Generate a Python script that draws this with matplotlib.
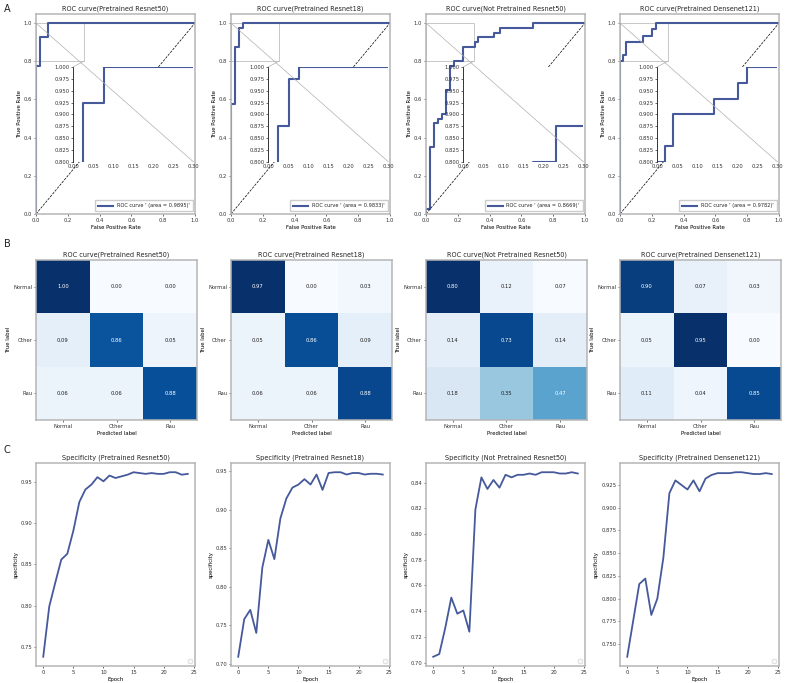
import numpy as np
import matplotlib.pyplot as plt
from matplotlib.patches import ConnectionPatch, Rectangle

plt.rcParams.update({
    "font.family": "DejaVu Sans",
    "font.size": 3.8,
    "axes.titlesize": 4.7,
    "axes.labelsize": 3.9,
    "xtick.labelsize": 3.8,
    "ytick.labelsize": 3.8,
    "xtick.major.size": 1.5,
    "ytick.major.size": 1.5,
    "xtick.major.width": 0.5,
    "ytick.major.width": 0.5,
    "xtick.major.pad": 1.2,
    "ytick.major.pad": 1.2,
    "axes.labelpad": 1.5,
    "axes.titlepad": 2.5,
    "text.color": "#222222",
    "xtick.color": "#333333",
    "ytick.color": "#333333",
})

BLUE = "#45599b"
SPINE = "#b5b5b5"

# ---- A: ROC curves
roc_titles = ["ROC curve(Pretrained Resnet50)", "ROC curve(Pretrained Resnet18)",
              "ROC curve(Not Pretrained Resnet50)", "ROC curve(Pretrained Densenet121)"]
roc_auc = [0.9895, 0.9833, 0.8669, 0.9782]

fpr_resnet50 = [0, 0, 0.025, 0.025, 0.077, 0.077, 1.0]
tpr_resnet50 = [0, 0.775, 0.775, 0.925, 0.925, 1.0, 1.0]

fpr_resnet18 = [0, 0, 0.025, 0.025, 0.051, 0.051, 0.077, 0.077, 1.0]
tpr_resnet18 = [0, 0.575, 0.575, 0.875, 0.875, 0.975, 0.975, 1.0, 1.0]

fpr_np_resnet50 = [0, 0, 0.025, 0.025, 0.05, 0.05, 0.075, 0.075, 0.1, 0.1, 0.125, 0.125,
                   0.15, 0.15, 0.175, 0.175, 0.232, 0.232, 0.31, 0.31, 0.33, 0.33,
                   0.43, 0.43, 0.465, 0.465, 0.675, 0.675, 1.0]
tpr_np_resnet50 = [0, 0.025, 0.025, 0.35, 0.35, 0.475, 0.475, 0.5, 0.5, 0.525, 0.525, 0.65,
                   0.65, 0.775, 0.775, 0.8, 0.8, 0.875, 0.875, 0.9, 0.9, 0.925,
                   0.925, 0.95, 0.95, 0.975, 0.975, 1.0, 1.0]

fpr_densenet121 = [0, 0, 0.019, 0.019, 0.04, 0.04, 0.1425, 0.1425, 0.203, 0.203, 0.224, 0.224, 1.0]
tpr_densenet121 = [0, 0.8, 0.8, 0.833, 0.833, 0.9, 0.9, 0.933, 0.933, 0.967, 0.967, 1.0, 1.0]

roc_fpr = [fpr_resnet50, fpr_resnet18, fpr_np_resnet50, fpr_densenet121]
roc_tpr = [tpr_resnet50, tpr_resnet18, tpr_np_resnet50, tpr_densenet121]

# ---- B: confusion matrices
classes = ["Normal", "Other", "Rau"]
cm_resnet50 = [[1.00, 0.00, 0.00], [0.09, 0.86, 0.05], [0.06, 0.06, 0.88]]
cm_resnet18 = [[0.97, 0.00, 0.03], [0.05, 0.86, 0.09], [0.06, 0.06, 0.88]]
cm_np_resnet50 = [[0.80, 0.12, 0.07], [0.14, 0.73, 0.14], [0.18, 0.35, 0.47]]
cm_densenet121 = [[0.90, 0.07, 0.03], [0.05, 0.95, 0.00], [0.11, 0.04, 0.85]]
cms = [cm_resnet50, cm_resnet18, cm_np_resnet50, cm_densenet121]

# ---- C: specificity per epoch
spec_titles = ["Specificity (Pretrained Resnet50)", "Specificity (Pretrained Resnet18)",
               "Specificity (Not Pretrained Resnet50)", "Specificity (Pretrained Densenet121)"]
epochs = list(range(25))
spec_resnet50 = [0.738, 0.799, 0.828, 0.856, 0.863, 0.891, 0.926, 0.941, 0.947, 0.956,
                 0.951, 0.958, 0.955, 0.957, 0.959, 0.962, 0.961, 0.960, 0.961, 0.960,
                 0.960, 0.962, 0.962, 0.959, 0.960]
spec_resnet18 = [0.709, 0.758, 0.770, 0.740, 0.825, 0.861, 0.836, 0.889, 0.915, 0.929,
                 0.933, 0.940, 0.933, 0.946, 0.926, 0.948, 0.949, 0.949, 0.946, 0.948,
                 0.948, 0.946, 0.947, 0.947, 0.946]
spec_np_resnet50 = [0.7045, 0.7066, 0.727, 0.7505, 0.738, 0.7405, 0.724, 0.819, 0.844, 0.835,
                    0.842, 0.836, 0.846, 0.844, 0.846, 0.846, 0.847, 0.846, 0.848, 0.848,
                    0.848, 0.847, 0.847, 0.848, 0.847]
spec_densenet121 = [0.736, 0.776, 0.816, 0.822, 0.782, 0.800, 0.845, 0.916, 0.930, 0.925,
                    0.920, 0.930, 0.918, 0.932, 0.936, 0.938, 0.938, 0.938, 0.939, 0.939,
                    0.938, 0.937, 0.937, 0.938, 0.937]
specs = [spec_resnet50, spec_resnet18, spec_np_resnet50, spec_densenet121]


def style_spines(ax):
    for s in ax.spines.values():
        s.set_color(SPINE)
        s.set_linewidth(1.1)


fig = plt.figure(figsize=(7.89, 6.83), dpi=100)
W, H = 789.0, 683.0
lefts = [36, 231, 426, 620]

# row A
for i in range(4):
    ax = fig.add_axes([lefts[i] / W, (H - 214) / H, 159 / W, 200.5 / H])
    fpr, tpr = roc_fpr[i], roc_tpr[i]
    ax.plot(fpr, tpr, color=BLUE, lw=1.5,
            label=f"ROC curve ' (area = {roc_auc[i]:.4f})'")
    ax.plot([0, 1], [0, 1], "k--", lw=0.5)
    ax.set_xlim(0, 1)
    ax.set_ylim(0, 1.05)
    ax.set_title(roc_titles[i])
    ax.set_xlabel("False Positive Rate")
    ax.set_ylabel("True Positive Rate")
    style_spines(ax)
    ax.add_patch(Rectangle((0, 0.8), 0.3, 0.2, fill=False, ec="#c8c8c8", lw=0.7))
    ax.legend(loc="lower right", fontsize=3.6, framealpha=1, edgecolor="#cccccc",
              fancybox=False, borderpad=0.6, handlelength=3)

    axins = ax.inset_axes([0.233, 0.26, 0.757, 0.473])
    axins.plot(fpr, tpr, color=BLUE, lw=1.5)
    axins.set_xlim(0, 0.3)
    axins.set_ylim(0.8, 1.0)
    axins.set_xticks(np.arange(0, 0.31, 0.05))
    axins.set_yticks(np.arange(0.8, 1.001, 0.025))
    axins.xaxis.set_major_formatter("{x:.2f}")
    axins.yaxis.set_major_formatter("{x:.3f}")
    for s in ["top", "right", "bottom"]:
        axins.spines[s].set_visible(False)
    axins.spines["left"].set_color("#333333")
    axins.spines["left"].set_linewidth(0.7)
    axins.tick_params(axis="x", length=0)

    for pa, pb in [((0, 1.0), (0.3, 0.8)), ((0.3, 0.8), (0, 1.0))]:
        con = ConnectionPatch(xyA=pa, coordsA=ax.transData, xyB=pb, coordsB=axins.transData,
                              color="#b0b0b0", lw=0.5, zorder=10)
        fig.add_artist(con)

# row B
for i in range(4):
    ax = fig.add_axes([lefts[i] / W, (H - 420) / H, 161 / W, 160 / H])
    cm = np.array(cms[i])
    ax.imshow(cm, cmap="Blues", aspect="auto", interpolation="nearest")
    thresh = cm.max() / 2.0
    for r in range(3):
        for c in range(3):
            ax.text(c, r, f"{cm[r, c]:.2f}", ha="center", va="center", fontsize=3.8,
                    color="white" if cm[r, c] > thresh else "#222222")
    ax.set_xticks(range(3), classes)
    ax.set_yticks(range(3), classes)
    ax.set_title(roc_titles[i])
    ax.set_xlabel("Predicted label")
    ax.set_ylabel("True label")
    style_spines(ax)

# row C
for i in range(4):
    ax = fig.add_axes([lefts[i] / W, (H - 666) / H, 159 / W, 203 / H])
    ax.plot(epochs, specs[i], color=BLUE, lw=1.3)
    ax.set_title(spec_titles[i])
    ax.set_xlabel("Epoch")
    ax.set_ylabel("specificity")
    ax.set_xticks(range(0, 26, 5))
    style_spines(ax)
    ax.legend(handles=[], labels=[], loc="lower right", edgecolor="#dddddd")

fig.text(7 / W, 1 - 9 / H, "A", fontsize=7, ha="center", va="center")
fig.text(7 / W, 1 - 244 / H, "B", fontsize=7, ha="center", va="center")
fig.text(7 / W, 1 - 450 / H, "C", fontsize=7, ha="center", va="center")

fig.savefig("out.png", dpi=100, facecolor="white")
